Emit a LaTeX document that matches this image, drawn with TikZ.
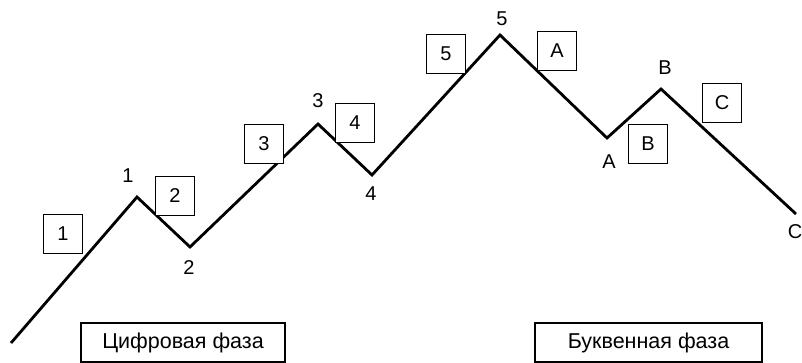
\documentclass[tikz,border=0pt]{standalone}
\usepackage{fontspec}
\setmainfont{Liberation Sans}
\begin{document}
\begin{tikzpicture}[x=1pt,y=-1pt,
  wave/.style={line width=2.8pt,line join=miter},
  lbl/.style={font=\fontsize{20}{22}\selectfont,inner sep=0pt},
  tag/.style={draw,line width=1.3pt,minimum size=39pt,inner sep=0pt,font=\fontsize{20}{22}\selectfont},
  phase/.style={draw,line width=1.3pt,minimum height=39pt,inner sep=0pt,font=\fontsize{21.5}{23}\selectfont}]
\useasboundingbox (0,0) rectangle (802,363);
% wave points
\coordinate (p0) at (11,343);
\coordinate (p1) at (137,197);
\coordinate (p2) at (190,247);
\coordinate (p3) at (318,124);
\coordinate (p4) at (372,175);
\coordinate (p5) at (500,35);
\coordinate (pA) at (607,138);
\coordinate (pB) at (661,89);
\coordinate (pC) at (796,214);
\draw[wave] (p0) -- (p1) -- (p2) -- (p3) -- (p4) -- (p5) -- (pA) -- (pB) -- (pC);
% point labels
\node[lbl] (l1) at (128,176) {1};
\node[lbl] (l2) at (189,268) {2};
\node[lbl] (l3) at (318,101) {3};
\node[lbl] (l4) at (371,194) {4};
\node[lbl] (l5) at (502,19) {5};
\node[lbl] (lA) at (609,162) {A};
\node[lbl] (lB) at (665,68) {B};
\node[lbl] (lC) at (795,232) {C};
% wave tags
\node[tag,fill=white] (t1) at (63,234) {1};
\node[tag,fill=white] (t2) at (175,196) {2};
\node[tag,fill=white] (t3) at (264,144) {3};
\node[tag,fill=white] (t4) at (355,123) {4};
\node[tag,fill=white] (t5) at (446,54) {5};
\node[tag,fill=white] (tA) at (557,51) {A};
\node[tag,fill=white] (tB) at (648,144) {B};
\node[tag,fill=white] (tC) at (722,103) {C};
% phases
\node[phase,minimum width=204pt] (ph1) at (183,342.5) {Цифровая фаза};
\node[phase,minimum width=227pt] (ph2) at (648.5,342.5) {Буквенная фаза};
\end{tikzpicture}
\end{document}
